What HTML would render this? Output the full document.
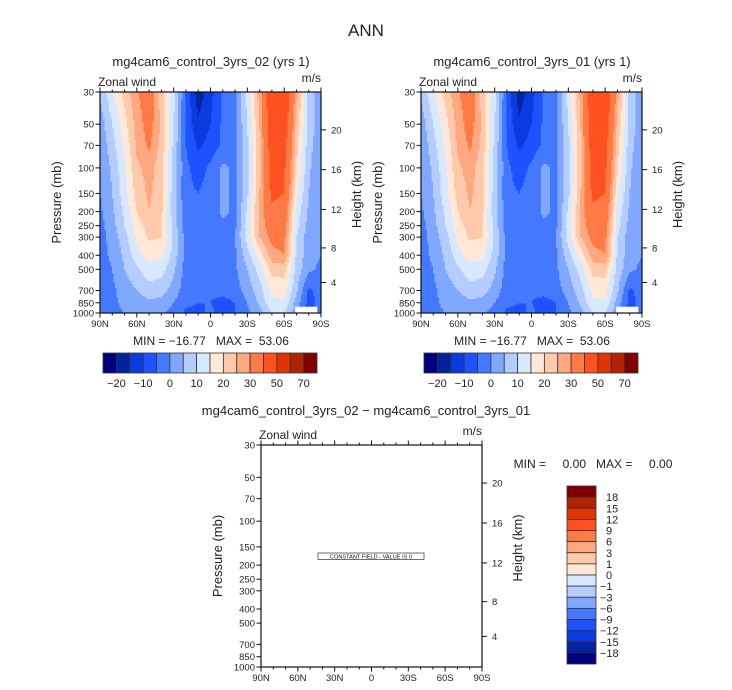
<!DOCTYPE html>
<html><head><meta charset="utf-8"><style>
html,body{margin:0;padding:0;background:#fff}
svg{display:block;font-family:"Liberation Sans",sans-serif}
</style></head><body>
<svg id="chart" width="732" height="690" viewBox="0 0 732 690" xmlns="http://www.w3.org/2000/svg">
<text x="366" y="36" font-size="17" text-anchor="middle" fill="#222">ANN</text>
<text x="211" y="66" font-size="13" text-anchor="middle" fill="#222">mg4cam6_control_3yrs_02 (yrs 1)</text>
<text x="532" y="66" font-size="13" text-anchor="middle" fill="#222">mg4cam6_control_3yrs_01 (yrs 1)</text>
<text x="366" y="415" font-size="13" text-anchor="middle" fill="#222">mg4cam6_control_3yrs_02 − mg4cam6_control_3yrs_01</text>
<text x="211" y="345" font-size="12" text-anchor="middle" fill="#222" xml:space="preserve">MIN = −16.77   MAX =  53.06</text>
<text x="532" y="345" font-size="12" text-anchor="middle" fill="#222" xml:space="preserve">MIN = −16.77   MAX =  53.06</text>
<text x="593" y="468" font-size="12" text-anchor="middle" fill="#222" xml:space="preserve">MIN =     0.00   MAX =     0.00</text>
<g id="layer"></g>
</svg>
<script>
const lats=[90,80,70,60,50,40,30,20,10,0,-10,-20,-30,-40,-50,-60,-70,-80,-90];
const levels=[30,50,70,100,150,200,250,300,400,500,700,850,1000];
const u30  =[6,14,22,29,35,22,12,-6,-18,-12,-4,-1,12,27,50,50,27,8,2];
const u50  =[2,10,18,27,33,24,10,-6,-14,-10,-4,-1,10,25,47,46,24,8,2];
const u70  =[1,8,16,26,31,23,9,-5,-11,-8,-4,-1,9,24,46,44,22,7,1];
const u100 =[0,6,14,24,27,22,8,-4,-7,-4,1,-1,8,24,44,42,20,6,0];
const u150 =[0,5,13,22,26,22,7,-4,-5,-3,1,-1,9,25,42,40,16,5,0];
const u200 =[-1,4,11,20,25,21,7,-3,-4,-3,1,-1,11,26,38,36,13,4,0];
const u250 =[-2,3,10,18,22,20,8,-3,-4,-3,-1,-1,13,26,35,34,12,3,0];
const u300 =[-2,2,8,16,21,20,9,-2,-4,-3,-2,0,12,25,32,32,10,2,0];
const u400 =[-2,1,6,13,17,16,8,-2,-4,-3,-2,-1,8,17,28,30,9,2,0];
const u500 =[-2,0,5,9,13,12,6,-2,-4,-3,-2,-1,5,12,22,22,8,1,-1];
const u700 =[-3,-1,2,5,8,7,3,-3,-5,-4,-3,-2,2,8,16,17,6,-6,-3];
const u850 =[-3,-1,1,2,4,3,0,-4,-5,-5,-7,-5,0,6,14,14,3,-7,-3];
const u1000=[-2,-1,0,1,2,1,-2,-6,-6,-4,-7,-5,-1,3,10,10,2,-7,-3];
const uField=[u30,u50,u70,u100,u150,u200,u250,u300,u400,u500,u700,u850,u1000];
const missingLat=[-69,-87];
const missingP=[905,1000];
const contourLevels=[-20,-15,-10,-5,0,5,10,15,20,25,30,40,50,60,70];
const colorbarLabels=[-20,-10,0,10,20,30,50,70];
const diffLevels=[18,15,12,9,6,3,1,0,-1,-3,-6,-9,-12,-15,-18];
const colors=["#00007f","#0222a0","#0a3ae0","#1f52ff","#4478ff","#80a8ff","#b4ccff","#d8e8ff","#ffe8d8","#ffc9ab","#ffa77f","#ff7a45","#ff5020","#e03500","#b32200","#800000"];
const xTickLats=[90,60,30,0,-30,-60,-90];
const xTickLabels=["90N","60N","30N","0","30S","60S","90S"];
const heightTicks=[4,8,12,16,20];

const NS="http://www.w3.org/2000/svg";
const layer=document.getElementById('layer');
function mk(tag,attrs,parent){const e=document.createElementNS(NS,tag);for(const k in attrs)e.setAttribute(k,attrs[k]);(parent||layer).appendChild(e);return e;}
const LR=Math.log(1000/30);
function stdP(z){return z<11?1013.25*Math.pow(1-z*6.5/288.15,5.256):226.3*Math.exp(-(z-11)/6.34);}
function colorFor(v){let i=0;while(i<contourLevels.length&&v>=contourLevels[i])i++;return colors[i];}
function sample(lat,p){
  let fi=(90-lat)/10;fi=Math.max(0,Math.min(17.9999,fi));const i=Math.floor(fi),fx=fi-i;
  let j=0;while(j<levels.length-2&&p>levels[j+1])j++;
  let fy=Math.log(p/levels[j])/Math.log(levels[j+1]/levels[j]);fy=Math.max(0,Math.min(1,fy));
  const a=uField[j][i],b=uField[j][i+1],c=uField[j+1][i],d=uField[j+1][i+1];
  return (a*(1-fx)+b*fx)*(1-fy)+(c*(1-fx)+d*fx)*fy;
}

function panel(name,x0,y0,w,h,filled){
  const g=mk('g',{});
  
  
  const xs=lat=>x0+(90-lat)/180*w;
  const ys=p=>y0+Math.log(p/30)/LR*h;
  if(filled){
    const fg=mk('g',{'shape-rendering':'crispEdges'},g);
    
    
    const st=1.5;
    const nx=Math.round(w/st),ny=Math.ceil(h/st);
    for(let r=0;r<ny;r++){
      const py=y0+r*st;
      const p=30*Math.exp((py+st/2-y0)/h*LR);
      let runStart=0,runCol=null;
      for(let c=0;c<=nx;c++){
        let col=null;
        if(c<nx){const lat=90-((c+0.5)*st)/w*180;col=colorFor(sample(lat,p));}
        if(col!==runCol){
          if(runCol){const rr=mk('rect',{x:x0+runStart*st,y:py,width:(Math.min(c*st,w)-runStart*st),height:Math.min(st,y0+h-py)+0.3,fill:runCol},fg);
            
            }
          runStart=c;runCol=col;
        }
      }
    }
    const m=mk('rect',{x:xs(missingLat[0]),y:ys(missingP[0]),width:xs(missingLat[1])-xs(missingLat[0]),height:ys(missingP[1])-ys(missingP[0]),fill:'#fff'},g);
    
    
  }
  const fr=mk('rect',{x:x0,y:y0,width:w,height:h,fill:'none',stroke:'#111','stroke-width':1.2},g);
  
  
  for(let lat=90;lat>=-90;lat-=10){
    const major=lat%30===0,x=xs(lat),L=major?4.5:2.5;
    mk('line',{x1:x,x2:x,y1:y0,y2:y0-L,stroke:'#111','stroke-width':1},g);
    mk('line',{x1:x,x2:x,y1:y0+h,y2:y0+h+L,stroke:'#111','stroke-width':1},g);
  }
  xTickLats.forEach((lat,k)=>{
    const t=mk('text',{x:xs(lat),y:y0+h+14,'font-size':9.5,'text-anchor':'middle',fill:'#222'},g);
    t.textContent=xTickLabels[k];
    
    
  });
  levels.forEach(p=>{
    const y=ys(p);
    mk('line',{x1:x0,x2:x0-4.5,y1:y,y2:y,stroke:'#111','stroke-width':1},g);
    const t=mk('text',{x:x0-6,y:y+3.5,'font-size':9.5,'text-anchor':'end',fill:'#222'},g);
    t.textContent=p;
    
    
  });
  heightTicks.forEach(z=>{
    const y=ys(stdP(z));
    mk('line',{x1:x0+w,x2:x0+w+5,y1:y,y2:y,stroke:'#111','stroke-width':1},g);
    const t=mk('text',{x:x0+w+10,y:y+3.5,'font-size':9.5,fill:'#222'},g);
    t.textContent=z;
    
    
  });
  const t1=mk('text',{x:x0-2,y:y0-6,'font-size':12,fill:'#222'},g);t1.textContent='Zonal wind';
  
  
  const t2=mk('text',{x:x0+w,y:y0-10,'font-size':12,'text-anchor':'end',fill:'#222'},g);t2.textContent='m/s';
  
  
  const cy=y0+h*0.5;
  const t3=mk('text',{x:0,y:0,'font-size':13,'text-anchor':'middle',fill:'#222',transform:`translate(${x0-39},${cy}) rotate(-90)`},g);t3.textContent='Pressure (mb)';
  
  
  const t4=mk('text',{x:0,y:0,'font-size':13,'text-anchor':'middle',fill:'#222',transform:`translate(${x0+w+40},${cy-8}) rotate(-90)`},g);t4.textContent='Height (km)';
  
  
}

function hColorbar(name,x0,y0,w,h){
  const g=mk('g',{});
  
  
  const bw=w/colors.length;
  colors.forEach((c,i)=>{
    const r=mk('rect',{x:x0+i*bw,y:y0,width:bw,height:h,fill:c,stroke:'#333','stroke-width':0.8},g);
    
    
  });
  contourLevels.forEach((v,i)=>{
    if(colorbarLabels.indexOf(v)<0)return;
    const t=mk('text',{x:x0+(i+1)*bw,y:y0+h+14,'font-size':11,'text-anchor':'middle',fill:'#222'},g);
    t.textContent=String(v).replace('-','−');
    
    
  });
}
function vColorbar(name,x0,y0,w,h){
  const g=mk('g',{});
  
  
  const bh=h/colors.length;
  for(let i=0;i<colors.length;i++){
    const r=mk('rect',{x:x0,y:y0+i*bh,width:w,height:bh,fill:colors[colors.length-1-i],stroke:'#333','stroke-width':0.8},g);
    
    
  }
  diffLevels.forEach((v,i)=>{
    const t=mk('text',{x:x0+w+(v<0?4:10),y:y0+(i+1)*bh+4,'font-size':11,fill:'#222'},g);
    t.textContent=String(v).replace('-','−');
    
    
  });
}

panel('left-panel',100,92,221,221,true);
panel('right-panel',421,92,221,221,true);
panel('diff-panel',261,445,221,222,false);
hColorbar('left-colorbar',103,353,214,20);
hColorbar('right-colorbar',424,353,214,20);
vColorbar('diff-colorbar',567,486,29,178);

const cf=mk('g',{});


mk('rect',{x:318,y:553,width:106,height:6.5,fill:'#fff',stroke:'#333','stroke-width':0.7},cf);
const ct=mk('text',{x:371,y:558.3,'font-size':5.6,'text-anchor':'middle',fill:'#111'},cf);
ct.textContent='CONSTANT FIELD - VALUE IS 0';
</script>
</body></html>
